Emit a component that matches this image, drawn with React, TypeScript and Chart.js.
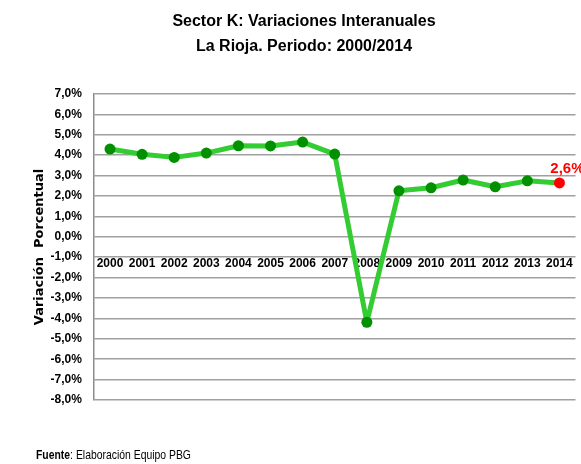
import React, { useEffect, useRef } from "react";
import { Chart, registerables } from "chart.js";

Chart.register(...registerables);

const years = ["2000","2001","2002","2003","2004","2005","2006","2007","2008","2009","2010","2011","2012","2013","2014"];
const variation = [4.3, 4.04, 3.89, 4.1, 4.46, 4.45, 4.64, 4.05, -4.19, 2.25, 2.4, 2.78, 2.45, 2.74, 2.64];
const lastLabel = "2,6%";
const titleLines = ["Sector K: Variaciones Interanuales", "La Rioja. Periodo: 2000/2014"];
const yTitle = "Variación  Porcentual";

const SANS = "'Liberation Sans', Arial, sans-serif";

const lastLabelPlugin = {
  id: "lastLabel",
  afterDatasetsDraw(chart: any) {
    const meta = chart.getDatasetMeta(0);
    const pt = meta.data[meta.data.length - 1];
    if (!pt) return;
    const ctx = chart.ctx;
    ctx.save();
    ctx.font = `bold 15px ${SANS}`;
    ctx.fillStyle = "#ff0000";
    ctx.textAlign = "center";
    ctx.textBaseline = "alphabetic";
    ctx.fillText(lastLabel, pt.x + 8, pt.y - 10);
    ctx.restore();
  },
};

export default function App() {
  const ref = useRef<HTMLCanvasElement>(null);
  useEffect(() => {
    if (!ref.current) return;
    const n = variation.length;
    const chart = new Chart(ref.current, {
      type: "line",
      data: {
        labels: years,
        datasets: [
          {
            data: variation,
            borderColor: "#33cc33",
            borderWidth: 5,
            borderJoinStyle: "round",
            borderCapStyle: "round",
            pointRadius: 5.5,
            pointBorderWidth: 0,
            pointBackgroundColor: variation.map((_, i) => (i === n - 1 ? "#ff0000" : "#009000")),
            pointBorderColor: variation.map((_, i) => (i === n - 1 ? "#ff0000" : "#009000")),
            tension: 0,
          },
        ],
      },
      options: {
        animation: false,
        responsive: false,
        maintainAspectRatio: false,
        layout: { padding: { left: 32, right: 5, top: 0, bottom: 64 } },
        plugins: {
          legend: { display: false },
          tooltip: { enabled: false },
          title: {
            display: true,
            text: titleLines,
            color: "#000",
            font: { family: SANS, size: 16, weight: "bold", lineHeight: 1.56 },
            padding: { top: 9.5, bottom: 34.5 },
          },
        },
        scales: {
          x: {
            type: "category",
            position: { y: -0.95 } as any,
            offset: true,
            grid: { display: false, drawTicks: false },
            border: { display: false },
            ticks: {
              color: "#000",
              font: { family: SANS, size: 12, weight: "bold" },
              padding: 0,
              maxRotation: 0,
              autoSkip: false,
            },
          },
          y: {
            min: -8,
            max: 7,
            ticks: {
              stepSize: 1,
              color: "#000",
              font: { family: SANS, size: 12, weight: "bold" },
              padding: 12,
              callback: (v: any) => Number(v).toFixed(1).replace(".", ",") + "%",
            },
            grid: { color: "#a0a0a0", lineWidth: 1.5, drawTicks: false },
            border: { display: true, color: "#8c8c8c", width: 1.5 },
            title: {
              display: true,
              text: yTitle,
              color: "#000",
              font: { family: "'DejaVu Sans', Verdana, sans-serif", size: 13, weight: "bold" },
              padding: { top: 0, bottom: -9 },
            },
          },
        },
      },
      plugins: [lastLabelPlugin],
    });
    return () => chart.destroy();
  }, []);

  return (
    <div style={{ position: "absolute", left: 0, top: 0, width: 581, height: 464, background: "#fff" }}>
      <canvas ref={ref} width={581} height={464} style={{ display: "block" }} />
      <div
        style={{
          position: "absolute",
          left: 36,
          top: 447,
          fontFamily: SANS,
          fontSize: 13,
          color: "#000",
          whiteSpace: "nowrap",
          transform: "scaleX(0.8)",
          transformOrigin: "left center",
        }}
      >
        <b>Fuente</b>: Elaboración Equipo PBG
      </div>
    </div>
  );
}
